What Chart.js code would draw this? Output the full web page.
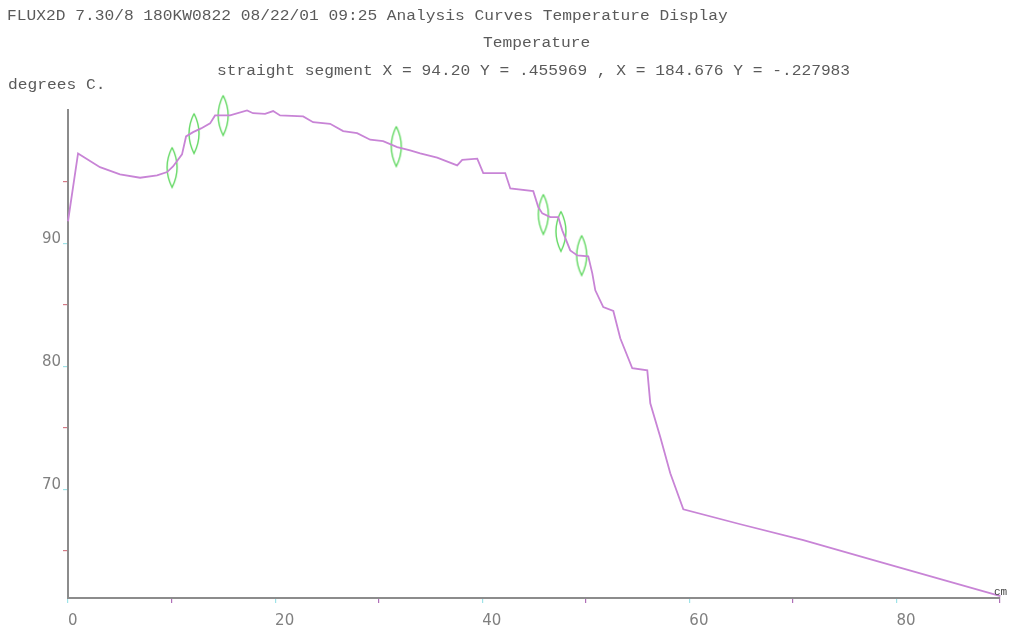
<!DOCTYPE html>
<html><head><meta charset="utf-8">
<script src="https://cdn.jsdelivr.net/npm/chart.js@4/dist/chart.umd.min.js"></script>
<style>html,body{margin:0;padding:0;background:#fff;overflow:hidden;}</style>
</head><body>
<canvas id="c" width="1011" height="632"></canvas>
<script>
// ---- data ----
const curveX = [0, 0.97, 3.09, 5.02, 6.96, 8.6, 9.57, 10.14, 11.01, 11.4, 12.08, 12.85, 13.72, 14.2, 15.65, 17.29, 17.87, 19.03, 19.81, 20.48, 22.71, 23.67, 25.31, 26.57, 27.92, 29.18, 30.43, 31.79, 33.04, 34.01, 35.65, 37.58, 38.07, 39.52, 40.1, 42.22, 42.71, 44.93, 45.41, 45.8, 46.57, 47.34, 47.73, 48.5, 49.18, 50.24, 50.63, 50.92, 51.69, 52.66, 53.33, 54.49, 55.94, 56.23, 57.2, 58.16, 59.42, 64.93, 71.01, 77.78, 84.25, 90.05];
const curveT = [91.8, 97.32, 96.2, 95.61, 95.34, 95.53, 95.8, 96.26, 97.24, 98.7, 99.05, 99.35, 99.76, 100.41, 100.41, 100.81, 100.59, 100.54, 100.76, 100.41, 100.33, 99.86, 99.73, 99.13, 98.97, 98.43, 98.32, 97.83, 97.56, 97.32, 96.97, 96.34, 96.8, 96.89, 95.72, 95.72, 94.47, 94.25, 92.95, 92.44, 92.14, 92.14, 91.06, 89.43, 89.02, 88.94, 87.56, 86.18, 84.82, 84.5, 82.28, 79.84, 79.67, 76.99, 74.23, 71.3, 68.37, 67.15, 65.85, 64.23, 62.68, 61.3];
const markerX = [10.05, 12.17, 14.98, 31.7, 45.9, 47.6, 49.6];
const markerT = [96.18, 98.94, 100.41, 97.89, 92.36, 90.98, 89.02];
const xTicks = [0, 10, 20, 30, 40, 50, 60, 70, 80, 90];
const xLabels = [0, 20, 40, 60, 80];
const yTicks = [65, 70, 75, 80, 85, 90, 95];
const yLabels = [70, 80, 90];
const xRange = [0, 90];
const yRange = [61.15, 100.85];
const headerLines = [
  "FLUX2D 7.30/8 180KW0822 08/22/01 09:25 Analysis Curves Temperature Display",
  "Temperature",
  "straight segment X = 94.20 Y = .455969 , X = 184.676 Y = -.227983",
  "degrees C."
];
const unitLabel = "cm";

// ---- marker glyph (tall lens) ----
function lens() {
  const c = document.createElement('canvas');
  c.width = 14; c.height = 44;
  const g = c.getContext('2d');
  g.strokeStyle = '#62d862';
  g.lineWidth = 1.4;
  g.beginPath();
  g.moveTo(7, 2);
  g.quadraticCurveTo(-3, 22, 7, 42);
  g.quadraticCurveTo(17, 22, 7, 2);
  g.stroke();
  return c;
}

const headerPos = [[7, 20], [483, 47], [217, 75], [8, 89]];
const textPlugin = {
  id: 'texts',
  afterDraw(chart) {
    const ctx = chart.ctx;
    ctx.save();
    ctx.fillStyle = '#5a5a5a';
    ctx.font = '14px "Liberation Mono"';
    ctx.textBaseline = 'alphabetic';
    const sx = 9.74 / ctx.measureText('M').width;
    headerLines.forEach((t, i) => {
      ctx.save();
      ctx.translate(headerPos[i][0], headerPos[i][1]);
      ctx.scale(sx, 1);
      ctx.fillText(t, 0, 0);
      ctx.restore();
    });
    ctx.font = '11px "Liberation Mono"';
    ctx.fillStyle = '#444';
    ctx.fillText(unitLabel, chart.chartArea.right - 6, chart.chartArea.bottom - 3);
    ctx.restore();
  }
};

const tickColor = (isMajor, axis) => isMajor ? '#9fe3e8' : (axis === 'y' ? '#d47a86' : '#b070b8');

new Chart(document.getElementById('c'), {
  data: {
    datasets: [
      {
        type: 'line',
        data: curveX.map((x, i) => ({ x, y: curveT[i] })),
        borderColor: '#c884d6',
        borderWidth: 1.8,
        pointRadius: 0,
        tension: 0,
        fill: false,
        clip: false
      },
      {
        type: 'scatter',
        data: markerX.map((x, i) => ({ x, y: markerT[i] })),
        pointStyle: lens(),
        clip: false
      }
    ]
  },
  options: {
    responsive: false,
    animation: false,
    devicePixelRatio: 1,
    layout: { padding: { top: 110, right: 11, left: 0, bottom: 0 } },
    plugins: { legend: { display: false }, tooltip: { enabled: false }, title: { display: false } },
    scales: {
      x: {
        type: 'linear',
        min: xRange[0], max: xRange[1],
        afterBuildTicks: s => { s.ticks = xTicks.map(v => ({ value: v })); },
        afterFit: s => { s.height = 34; },
        border: { display: true, color: '#8c8c8c', width: 2 },
        grid: {
          drawOnChartArea: false, drawTicks: true, tickLength: 5, lineWidth: 1.2,
          color: ctx => tickColor(xLabels.includes(ctx.tick && ctx.tick.value), 'x')
        },
        ticks: {
          align: 'start', padding: 9, maxRotation: 0, autoSkip: false,
          color: '#808080', font: { family: 'DejaVu Sans', size: 15 },
          callback: v => xLabels.includes(v) ? String(v) : ''
        }
      },
      y: {
        type: 'linear',
        min: yRange[0], max: yRange[1],
        afterBuildTicks: s => { s.ticks = yTicks.map(v => ({ value: v })); },
        afterFit: s => { s.width = 68; },
        border: { display: true, color: '#8c8c8c', width: 2 },
        grid: {
          drawOnChartArea: false, drawTicks: true, tickLength: 5, lineWidth: 1.2,
          color: ctx => tickColor(yLabels.includes(ctx.tick && ctx.tick.value), 'y')
        },
        ticks: {
          padding: 2, labelOffset: -4, autoSkip: false,
          color: '#808080', font: { family: 'DejaVu Sans', size: 15 },
          callback: v => yLabels.includes(v) ? String(v) : ''
        }
      }
    }
  },
  plugins: [textPlugin]
});
</script>
</body></html>
